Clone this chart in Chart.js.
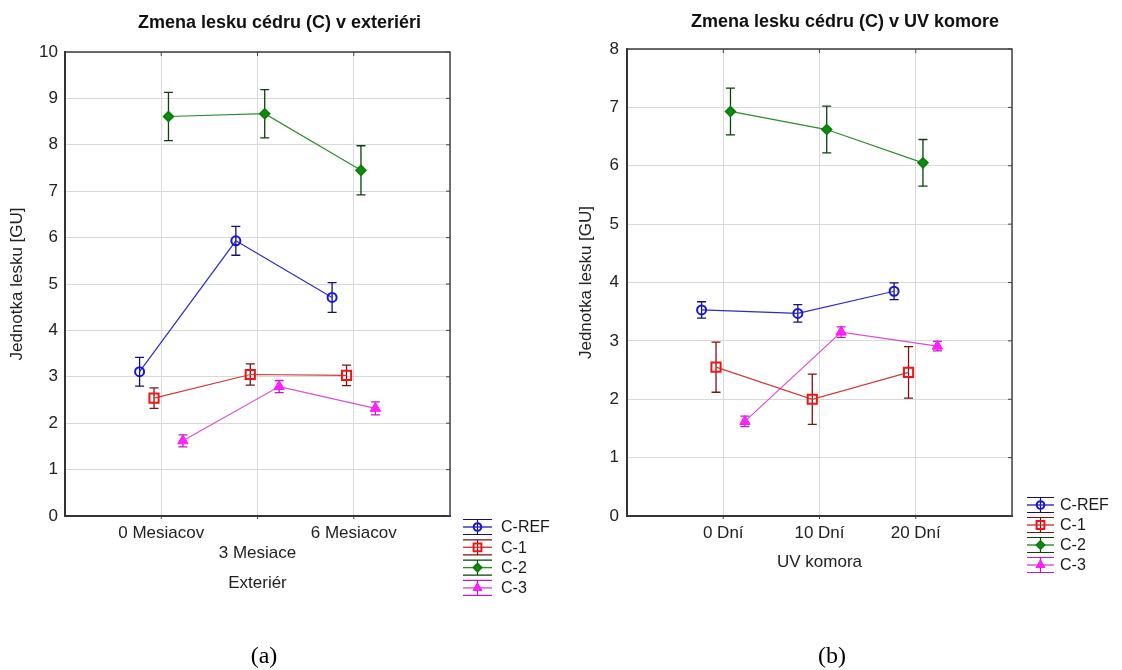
<!DOCTYPE html>
<html><head><meta charset="utf-8">
<script src="https://cdn.jsdelivr.net/npm/chart.js@4.4.1/dist/chart.umd.min.js"></script>
<style>
html,body{margin:0;padding:0;background:#fff;width:1122px;height:670px;overflow:hidden;}
.wrap{position:absolute;top:0;height:670px;}
#wa{left:0;width:561px}
#wb{left:561px;width:561px}
.cap{position:absolute;top:643px;font-family:'Liberation Serif','Times New Roman',serif;font-size:24px;line-height:24px;color:#000;transform:translateX(-50%);white-space:nowrap;}
</style></head><body>
<div class="wrap" id="wa"><canvas id="ca"></canvas></div>
<div class="wrap" id="wb"><canvas id="cb"></canvas></div>
<div class="cap" style="left:264px">(a)</div>
<div class="cap" style="left:832px">(b)</div>
<script>
// ---------- data ----------
const seriesNames = ['C-REF', 'C-1', 'C-2', 'C-3'];
const categoriesA = ['0 Mesiacov', '3 Mesiace', '6 Mesiacov'];
const categoriesB = ['0 Dní', '10 Dní', '20 Dní'];

// (a) exterior
const crefA = [3.11, 5.93, 4.71];   const crefErrA = [0.31, 0.31, 0.32];
const c1A   = [2.54, 3.05, 3.03];   const c1ErrA   = [0.22, 0.23, 0.22];
const c2A   = [8.61, 8.67, 7.45];   const c2ErrA   = [0.52, 0.52, 0.53];
const c3A   = [1.62, 2.79, 2.32];   const c3ErrA   = [0.13, 0.13, 0.14];

// (b) UV chamber
const crefB = [3.53, 3.47, 3.85];   const crefErrB = [0.14, 0.15, 0.145];
const c1B   = [2.55, 2.00, 2.46];   const c1ErrB   = [0.43, 0.43, 0.44];
const c2B   = [6.93, 6.62, 6.05];   const c2ErrB   = [0.40, 0.40, 0.40];
const c3B   = [1.62, 3.15, 2.91];   const c3ErrB   = [0.09, 0.09, 0.08];

const yMaxA = 10, yMaxB = 8;
// horizontal dodge of series around each category (in category units)
const dodge = [-0.225, -0.075, 0.075, 0.225];

// ---------- styles ----------
const FONT = "'Liberation Sans', Arial, Helvetica, sans-serif";
const styles = [
  {borderColor:'#2c2cc4', pointBorderColor:'#1515e0', pointBackgroundColor:'rgba(0,0,0,0)', pointStyle:'circle', pointRadius:4.5, pointBorderWidth:2, errorColor:'#12126e'},
  {borderColor:'#d03a3a', pointBorderColor:'#f01414', pointBackgroundColor:'rgba(0,0,0,0)', pointStyle:'rect', pointRadius:6.5, pointBorderWidth:2, errorColor:'#7c1212'},
  {borderColor:'#2e8c2e', pointBorderColor:'#0b7a0b', pointBackgroundColor:'#0c8c0c', pointStyle:'rectRot', pointRadius:5, pointBorderWidth:1.5, errorColor:'#0b420b'},
  {borderColor:'#d650d6', pointBorderColor:'#ff14ff', pointBackgroundColor:'#ff22ff', pointStyle:'triangle', pointRadius:6, pointBorderWidth:1, errorColor:'#c21cc2'}
];

function makeDatasets(values, errors) {
  return seriesNames.map((name, s) => Object.assign({
    label: name,
    data: values[s].map((v, i) => ({x: i + dodge[s], y: v})),
    errors: errors[s],
    showLine: true,
    borderWidth: 1.2,
    tension: 0
  }, styles[s]));
}

// ---------- plugins ----------
const errorBarsPlugin = {
  id: 'errorBars',
  beforeDatasetsDraw(chart) {
    const ctx = chart.ctx, ys = chart.scales.y;
    chart.data.datasets.forEach((ds, i) => {
      const meta = chart.getDatasetMeta(i);
      meta.data.forEach((pt, j) => {
        const v = ds.data[j].y, e = ds.errors[j];
        const t = ys.getPixelForValue(v + e), b = ys.getPixelForValue(v - e);
        const x = pt.x, cw = 4.5;
        ctx.save();
        ctx.strokeStyle = ds.errorColor; ctx.lineWidth = 1.3;
        ctx.beginPath();
        ctx.moveTo(x, t); ctx.lineTo(x, b);
        ctx.moveTo(x - cw, t); ctx.lineTo(x + cw, t);
        ctx.moveTo(x - cw, b); ctx.lineTo(x + cw, b);
        ctx.stroke();
        ctx.restore();
      });
    });
  }
};

const framePlugin = {
  id: 'frame',
  beforeDatasetsDraw(chart) {
    const {ctx, chartArea: a, scales} = chart;
    ctx.save();
    ctx.strokeStyle = '#3a3a3a'; ctx.lineWidth = 1.4;
    ctx.beginPath();
    ctx.moveTo(a.left, a.top); ctx.lineTo(a.right, a.top); ctx.lineTo(a.right, a.bottom);
    ctx.stroke();
    ctx.lineWidth = 1; ctx.strokeStyle = '#444';
    ctx.beginPath();
    scales.y.ticks.forEach(t => {
      const y = scales.y.getPixelForValue(t.value);
      ctx.moveTo(a.right - 4, y); ctx.lineTo(a.right, y);
    });
    scales.x.ticks.forEach(t => {
      if (t.value < 0 || t.value > 2) return;
      const x = scales.x.getPixelForValue(t.value);
      ctx.moveTo(x, a.top); ctx.lineTo(x, a.top + 4);
      ctx.moveTo(x, a.bottom); ctx.lineTo(x, a.bottom + 3);
    });
    ctx.stroke();
    ctx.restore();
  }
};

const headingPlugin = {
  id: 'heading',
  afterDraw(chart, args, opts) {
    const ctx = chart.ctx;
    ctx.save();
    ctx.fillStyle = '#111';
    ctx.font = 'bold ' + opts.fontSize + 'px ' + FONT;
    ctx.textAlign = 'center'; ctx.textBaseline = 'middle';
    ctx.fillText(opts.text, opts.x, opts.y);
    ctx.restore();
  }
};

const legendPlugin = {
  id: 'seriesLegend',
  afterDraw(chart, args, opts) {
    const ctx = chart.ctx;
    chart.data.datasets.forEach((ds, i) => {
      const y = opts.y + i * opts.dy;
      const x0 = opts.x, x1 = opts.x + opts.w, xm = (x0 + x1) / 2;
      ctx.save();
      ctx.strokeStyle = ds.errorColor; ctx.lineWidth = 1.2;
      ctx.beginPath();
      ctx.moveTo(x0, y - 7.5); ctx.lineTo(x1, y - 7.5);
      ctx.moveTo(x0, y + 7.5); ctx.lineTo(x1, y + 7.5);
      ctx.moveTo(xm, y - 7.5); ctx.lineTo(xm, y + 7.5);
      ctx.stroke();
      ctx.strokeStyle = ds.borderColor; ctx.lineWidth = 1.4;
      ctx.beginPath(); ctx.moveTo(x0, y); ctx.lineTo(x1, y); ctx.stroke();
      ctx.fillStyle = ds.pointBackgroundColor; ctx.strokeStyle = ds.pointBorderColor;
      ctx.lineWidth = ds.pointBorderWidth;
      Chart.helpers.drawPoint(ctx, {pointStyle: ds.pointStyle, radius: ds.pointRadius * 0.85, rotation: 0, borderWidth: ds.pointBorderWidth}, xm, y);
      ctx.fillStyle = '#1a1a1a';
      ctx.font = opts.fontSize + 'px ' + FONT;
      ctx.textBaseline = 'middle'; ctx.textAlign = 'left';
      ctx.fillText(ds.label, opts.textX, y + 1);
      ctx.restore();
    });
  }
};

// ---------- chart factory ----------
function makeChart(id, cfg) {
  const cats = cfg.categories;
  const tickFont = {family: FONT, size: 17};
  return new Chart(document.getElementById(id), {
    type: 'scatter',
    data: {datasets: makeDatasets(cfg.values, cfg.errors)},
    options: {
      responsive: true, maintainAspectRatio: false, animation: false,
      events: [],
      layout: {padding: {left: 0, right: cfg.padRight, top: cfg.padTop, bottom: 0}},
      plugins: {
        legend: {display: false},
        tooltip: {enabled: false},
        title: {display: false},
        heading: cfg.heading,
        seriesLegend: cfg.legend
      },
      scales: {
        x: {
          type: 'linear', min: -1, max: 3,
          afterFit: s => { s.height = 154; },
          ticks: {
            stepSize: 1, autoSkip: false, maxRotation: 0, padding: 7,
            font: tickFont, color: '#222',
            callback: v => {
              const i = Math.round(v);
              if (Math.abs(v - i) > 1e-6 || i < 0 || i >= cats.length) return '';
              return (cfg.stagger && i % 2 === 1) ? ['', cats[i]] : cats[i];
            }
          },
          grid: {color: '#d9d9d9', drawTicks: false, lineWidth: 1},
          border: {display: true, color: '#333', width: 2},
          title: {display: true, text: cfg.xTitle, color: '#222', font: tickFont,
                  padding: {top: 0, bottom: cfg.xTitleBottom}}
        },
        y: {
          min: 0, max: cfg.yMax,
          afterFit: s => { s.width = cfg.yWidth; },
          ticks: {stepSize: 1, padding: cfg.yTickPad, font: tickFont, color: '#222'},
          grid: {color: '#d9d9d9', drawTicks: false, lineWidth: 1},
          border: {display: true, color: '#333', width: 2},
          title: {display: true, text: 'Jednotka lesku [GU]', color: '#222', font: tickFont,
                  padding: {top: cfg.yTitlePad, bottom: 0}}
        }
      }
    },
    plugins: [errorBarsPlugin, framePlugin, headingPlugin, legendPlugin]
  });
}

makeChart('ca', {
  heading: {text: 'Zmena lesku cédru (C) v exteriéri', x: 279.5, y: 23, fontSize: 18},
  categories: categoriesA, stagger: true, xTitle: 'Exteriér',
  values: [crefA, c1A, c2A, c3A], errors: [crefErrA, c1ErrA, c2ErrA, c3ErrA],
  yMax: yMaxA, yWidth: 65, yTickPad: 7, yTitlePad: 6.8, padRight: 111, padTop: 52,
  xTitleBottom: 76.5,
  legend: {x: 463, w: 29, textX: 501, y: 527, dy: 20.3, fontSize: 16}
});

makeChart('cb', {
  heading: {text: 'Zmena lesku cédru (C) v UV komore', x: 284, y: 22.5, fontSize: 18},
  categories: categoriesB, stagger: false, xTitle: 'UV komora',
  values: [crefB, c1B, c2B, c3B], errors: [crefErrB, c1ErrB, c2ErrB, c3ErrB],
  yMax: yMaxB, yWidth: 66, yTickPad: 8, yTitlePad: 14.8, padRight: 110, padTop: 49,
  xTitleBottom: 97.8,
  legend: {x: 466, w: 27, textX: 499, y: 505, dy: 20, fontSize: 16}
});
</script>
</body></html>
